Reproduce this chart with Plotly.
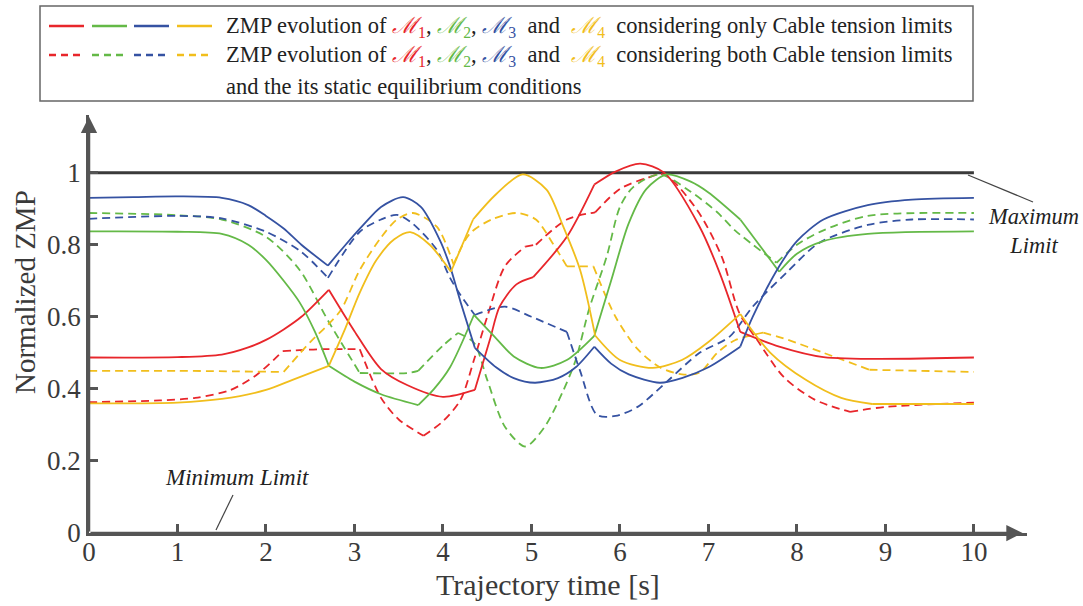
import plotly.graph_objects as go

# ZMP of module 1..4, only cable tension limits (solid)
t_m1_a = [0, 1.0, 1.5, 1.8, 2.0, 2.2, 2.4, 2.71, 3.0, 3.3, 3.6, 4.0, 4.36, 4.53, 4.64, 4.83, 5.02, 5.4, 5.71, 5.95, 6.23, 6.5, 6.9, 7.13, 7.36, 7.8, 8.3, 10]
z_m1_a = [0.487, 0.488, 0.495, 0.515, 0.536, 0.565, 0.6, 0.675, 0.56, 0.455, 0.41, 0.378, 0.397, 0.536, 0.628, 0.69, 0.71, 0.822, 0.967, 1.003, 1.025, 1.0, 0.85, 0.72, 0.558, 0.517, 0.488, 0.487]
k_m1_a = [2.71, 4.36, 5.02, 5.71, 7.36]

t_m2_a = [0, 1.0, 1.5, 1.8, 2.0, 2.2, 2.38, 2.55, 2.71, 3.0, 3.3, 3.72, 3.9, 4.08, 4.35, 4.6, 4.8, 5.1, 5.4, 5.71, 5.9, 6.1, 6.3, 6.53, 6.8, 7.0, 7.36, 7.8, 8.0, 8.3, 8.8, 10]
z_m2_a = [0.837, 0.836, 0.83, 0.80, 0.758, 0.70, 0.64, 0.56, 0.464, 0.42, 0.385, 0.355, 0.40, 0.46, 0.605, 0.54, 0.49, 0.458, 0.48, 0.547, 0.70, 0.86, 0.955, 0.995, 0.975, 0.945, 0.87, 0.725, 0.775, 0.81, 0.83, 0.837]
k_m2_a = [2.71, 3.72, 4.35, 5.71, 7.36, 7.8]

t_m3_a = [0, 0.5, 1.0, 1.5, 1.8, 2.0, 2.2, 2.4, 2.7, 2.9, 3.1, 3.3, 3.55, 3.75, 3.97, 4.08, 4.2, 4.36, 4.6, 4.8, 5.04, 5.3, 5.5, 5.71, 5.9, 6.1, 6.45, 6.7, 7.0, 7.36, 7.5, 7.8, 8.0, 8.3, 8.8, 9.3, 10]
z_m3_a = [0.93, 0.932, 0.934, 0.93, 0.91, 0.88, 0.845, 0.80, 0.742, 0.80, 0.855, 0.905, 0.932, 0.905, 0.81, 0.74, 0.64, 0.514, 0.46, 0.43, 0.417, 0.43, 0.46, 0.517, 0.47, 0.44, 0.417, 0.43, 0.46, 0.517, 0.60, 0.74, 0.81, 0.87, 0.91, 0.925, 0.93]
k_m3_a = [2.7, 4.36, 5.71, 7.36]

t_m4_a = [0, 1.0, 1.5, 2.0, 2.3, 2.71, 2.9, 3.06, 3.25, 3.45, 3.63, 3.85, 4.09, 4.34, 4.6, 4.9, 5.17, 5.36, 5.55, 5.72, 6.0, 6.37, 6.7, 7.0, 7.36, 7.7, 8.1, 8.5, 8.85, 10]
z_m4_a = [0.36, 0.362, 0.372, 0.397, 0.425, 0.464, 0.57, 0.667, 0.758, 0.815, 0.835, 0.8, 0.725, 0.87, 0.94, 0.995, 0.953, 0.85, 0.73, 0.548, 0.48, 0.458, 0.48, 0.53, 0.608, 0.5, 0.425, 0.375, 0.358, 0.358]
k_m4_a = [2.71, 4.09, 4.34, 5.72, 7.36, 8.85]

# ZMP of module 1..4, cable tension limits + static equilibrium (dashed)
t_m1_b = [0, 0.8, 1.2, 1.6, 1.9, 2.19, 2.6, 3.06, 3.3, 3.5, 3.78, 4.0, 4.2, 4.35, 4.5, 4.7, 4.93, 5.05, 5.4, 5.72, 6.0, 6.3, 6.5, 6.87, 7.15, 7.35, 7.55, 7.85, 8.2, 8.6, 9.0, 10]
z_m1_b = [0.363, 0.368, 0.375, 0.397, 0.44, 0.505, 0.51, 0.51, 0.375, 0.315, 0.27, 0.31, 0.37, 0.48, 0.6, 0.74, 0.795, 0.8, 0.87, 0.89, 0.955, 0.985, 0.995, 0.897, 0.767, 0.61, 0.536, 0.433, 0.37, 0.336, 0.35, 0.362]
k_m1_b = [2.19, 3.06, 3.78, 4.93, 5.05, 5.72, 8.6]

t_m2_b = [0, 1.0, 1.5, 2.0, 2.38, 2.7, 3.06, 3.6, 3.72, 4.0, 4.17, 4.35, 4.5, 4.7, 4.93, 5.15, 5.35, 5.5, 5.65, 5.85, 6.0, 6.15, 6.45, 6.8, 7.1, 7.3, 7.77, 8.0, 8.3, 8.8, 10]
z_m2_b = [0.888, 0.882, 0.87, 0.822, 0.73, 0.59, 0.444, 0.444, 0.45, 0.52, 0.555, 0.528, 0.425, 0.295, 0.24, 0.295, 0.39, 0.48, 0.62, 0.767, 0.905, 0.96, 0.995, 0.947, 0.89, 0.84, 0.75, 0.80, 0.84, 0.88, 0.888]
k_m2_b = [3.06, 3.72, 4.17, 7.77]

t_m3_b = [0, 1.0, 1.5, 2.0, 2.4, 2.70, 3.06, 3.3, 3.48, 3.65, 3.93, 4.08, 4.2, 4.36, 4.7, 5.0, 5.4, 5.55, 5.74, 5.95, 6.2, 6.53, 6.9, 7.24, 7.5, 7.88, 8.25, 8.8, 9.3, 10]
z_m3_b = [0.872, 0.88, 0.873, 0.836, 0.78, 0.708, 0.836, 0.87, 0.883, 0.86, 0.786, 0.708, 0.66, 0.605, 0.628, 0.6, 0.558, 0.45, 0.328, 0.325, 0.35, 0.42, 0.5, 0.545, 0.628, 0.722, 0.805, 0.855, 0.87, 0.87]
k_m3_b = [2.70, 4.36, 5.4]

t_m4_b = [0, 1.0, 2.2, 2.5, 2.7, 2.85, 3.06, 3.3, 3.48, 3.66, 3.93, 4.12, 4.3, 4.55, 4.83, 5.05, 5.25, 5.4, 5.7, 5.95, 6.2, 6.45, 6.7, 6.9, 7.1, 7.3, 7.62, 7.9, 8.3, 8.82, 10]
z_m4_b = [0.45, 0.45, 0.447, 0.53, 0.578, 0.62, 0.73, 0.82, 0.87, 0.888, 0.85, 0.745, 0.83, 0.87, 0.888, 0.87, 0.8, 0.74, 0.74, 0.6, 0.51, 0.46, 0.44, 0.445, 0.5, 0.535, 0.556, 0.536, 0.5, 0.453, 0.447]
k_m4_b = [2.2, 4.12, 5.4, 5.7, 7.62, 8.82]

# maximum limit
t_limit = [0, 10]
z_limit = [1, 1]

x_ticks = [0, 1, 2, 3, 4, 5, 6, 7, 8, 9, 10]
y_ticks = [0, 0.2, 0.4, 0.6, 0.8, 1]
y_tick_text = ["0", "0.2", "0.4", "0.6", "0.8", "1"]

RED, GREEN, BLUE, YELLOW = '#e8262b', '#64b947', '#3552a2', '#f1be1c'
AX = '#555555'
TXT = '#3a3a3a'
SERIF = 'Liberation Serif'
DASH = '8px,5px'

# plot area in pixels: x=0 at 89px, y=0 at 533px
L, R, T, B = 89, 56, 115, 73
W, H = 1083, 606


def px(x):
    return (x - L) / (W - L - R)


def py(y):
    return (H - B - y) / (H - T - B)


def split(t, z, kinks):
    # break the curve at kink points so the spline keeps them sharp
    xs, ys = [], []
    for ti, zi in zip(t, z):
        xs.append(ti)
        ys.append(zi)
        if ti in kinks:
            xs += [None, ti]
            ys += [None, zi]
    return xs, ys


def label(x, y, text, size, **kw):
    fig.add_annotation(x=px(x), y=py(y), xref='paper', yref='paper', showarrow=False,
                       xanchor=kw.pop('xanchor', 'center'), yanchor='middle', text=text,
                       font=dict(family=SERIF, size=size, color=kw.pop('color', '#222')), **kw)


fig = go.Figure()

fig.add_trace(go.Scatter(x=t_limit, y=z_limit, mode='lines',
                         line=dict(color='#3a3a3a', width=3), showlegend=False))

for t, z, k, c in [(t_m1_b, z_m1_b, k_m1_b, RED), (t_m2_b, z_m2_b, k_m2_b, GREEN),
                   (t_m3_b, z_m3_b, k_m3_b, BLUE), (t_m4_b, z_m4_b, k_m4_b, YELLOW)]:
    xs, ys = split(t, z, k)
    fig.add_trace(go.Scatter(x=xs, y=ys, mode='lines', showlegend=False,
                             line=dict(color=c, width=1.8, dash=DASH,
                                       shape='spline', smoothing=0.8)))

for t, z, k, c in [(t_m1_a, z_m1_a, k_m1_a, RED), (t_m2_a, z_m2_a, k_m2_a, GREEN),
                   (t_m3_a, z_m3_a, k_m3_a, BLUE), (t_m4_a, z_m4_a, k_m4_a, YELLOW)]:
    xs, ys = split(t, z, k)
    fig.add_trace(go.Scatter(x=xs, y=ys, mode='lines', showlegend=False,
                             line=dict(color=c, width=1.8,
                                       shape='spline', smoothing=0.8)))

fig.update_xaxes(range=[0, 10.6], tickvals=x_ticks, ticks='inside', ticklen=9,
                 tickwidth=2.5, tickcolor=AX, showline=True, linecolor=AX, linewidth=2.5,
                 showgrid=False, zeroline=False, ticklabelstandoff=-7, automargin=False,
                 tickfont=dict(family=SERIF, size=27, color=TXT))
fig.update_yaxes(range=[0, 1.16], tickvals=y_ticks, ticktext=y_tick_text,
                 ticks='inside', ticklen=9, tickwidth=2.5, tickcolor=AX,
                 showline=True, linecolor=AX, linewidth=2.5, showgrid=False,
                 zeroline=False, ticklabelstandoff=0, automargin=False,
                 tickfont=dict(family=SERIF, size=27, color=TXT))

# axis titles
label(548, 584, 'Trajectory time [s]', 30, color=TXT)
label(25, 292, 'Normalized ZMP', 29, color=TXT, textangle=-90)

# axis arrows
fig.add_annotation(x=0, y=1.155, ax=0, ay=0, xref='x', yref='y', axref='x', ayref='y',
                   showarrow=True, arrowhead=2, arrowsize=1.3, arrowwidth=2.5,
                   arrowcolor=AX, text='')
fig.add_annotation(x=10.55, y=0, ax=0, ay=0, xref='x', yref='y', axref='x', ayref='y',
                   showarrow=True, arrowhead=2, arrowsize=1.3, arrowwidth=2.5,
                   arrowcolor=AX, text='')

# limit labels
label(1033, 231, '<i>Maximum<br>Limit</i>', 22.5, align='center')
fig.add_shape(type='line', xref='paper', yref='paper', x0=px(968), y0=py(175),
              x1=px(1033), y1=py(202), line=dict(color='#444', width=1.2))
label(237, 477, '<i>Minimum Limit</i>', 23)
fig.add_shape(type='line', xref='paper', yref='paper', x0=px(233), y0=py(495),
              x1=px(216), y1=py(530), line=dict(color='#444', width=1.2))

# legend box
fig.add_shape(type='rect', xref='paper', yref='paper', x0=px(40), y0=py(101),
              x1=px(973), y1=py(6), line=dict(color='#666', width=1.5),
              fillcolor='white')
for (a, b), c in zip([(49, 84), (92, 127), (134, 169), (177, 212)],
                     [RED, GREEN, BLUE, YELLOW]):
    fig.add_shape(type='line', xref='paper', yref='paper', x0=px(a), x1=px(b),
                  y0=py(26), y1=py(26), line=dict(color=c, width=2.5))
    fig.add_shape(type='line', xref='paper', yref='paper', x0=px(a), x1=px(b),
                  y0=py(55), y1=py(55), line=dict(color=c, width=2.5, dash='7px,5px'))


def m(c, i):
    return "<span style='color:%s'><i>ℳ</i><sub>%d</sub></span>" % (c, i)


mods = "ZMP evolution of %s, %s, %s  and  %s  " % (m(RED, 1), m(GREEN, 2), m(BLUE, 3), m(YELLOW, 4))
for y, s in [(27, mods + "considering only Cable tension limits"),
             (56, mods + "considering both Cable tension limits"),
             (86, "and the its static equilibrium conditions")]:
    label(224, y, s, 22.5, xanchor='left')

fig.update_layout(width=W, height=H, margin=dict(l=L, r=R, t=T, b=B),
                  plot_bgcolor='white', paper_bgcolor='white', showlegend=False,
                  font=dict(family=SERIF))

fig.write_html("out.html", config={'displayModeBar': False},
               post_script="document.body.style.margin='0';")
